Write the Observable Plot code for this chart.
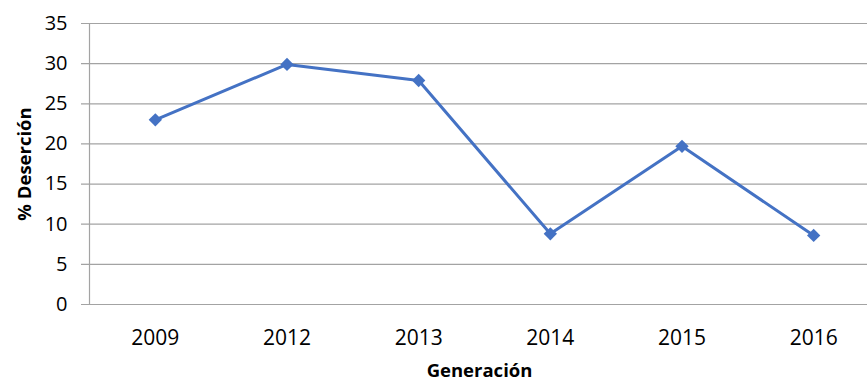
<!DOCTYPE html>
<html>
<head>
<meta charset="utf-8">
<script src="https://cdn.jsdelivr.net/npm/d3@7"></script>
<script src="https://cdn.jsdelivr.net/npm/@observablehq/plot@0.6"></script>
<style>
  html, body { margin: 0; padding: 0; background: #ffffff; }
  #chart svg { display: block; }
</style>
</head>
<body>
<div id="chart"></div>
<script>
// Dropout rate (%) by student generation
const generations = ["2009", "2012", "2013", "2014", "2015", "2016"];
const dropoutRates = [23.0, 29.9, 27.9, 8.8, 19.7, 8.6];
const yTicks = [0, 5, 10, 15, 20, 25, 30, 35];

const data = generations.map((g, i) => ({i, generation: g, rate: dropoutRates[i]}));
const xIndex = d3.range(generations.length);

const blue = "#4472C4";
const grid = "#a3a3a3";

const chart = Plot.plot({
  width: 867,
  height: 381,
  marginLeft: 81,
  marginRight: 0,
  marginTop: 23,
  marginBottom: 77,
  style: {fontFamily: "'Open Sans', sans-serif", fontSize: "20px", color: "#000", background: "#fff"},
  x: {type: "linear", domain: [-0.5, generations.length - 0.5], range: [89, 879]},
  y: {domain: [0, 35], range: [304, 23]},
  marks: [
    Plot.ruleY(yTicks, {stroke: grid, strokeWidth: 1.2}),
    Plot.ruleX([-0.5], {y1: 0, y2: 35, stroke: grid, strokeWidth: 1.2}),
    Plot.axisY({ticks: yTicks, tickSize: 0, tickPadding: 14, fontSize: 20,
      label: "% Deserción", labelAnchor: "center", labelArrow: "none", labelOffset: 64}),
    Plot.axisX({ticks: xIndex, tickFormat: i => generations[i], tickSize: 0, tickPadding: 26, fontSize: 21,
      label: "Generación", labelAnchor: "center", labelArrow: "none", labelOffset: 72}),
    Plot.line(data, {x: "i", y: "rate", stroke: blue, strokeWidth: 3}),
    Plot.dot(data, {x: "i", y: "rate", symbol: "diamond2", r: 6, fill: blue, stroke: "none"})
  ]
});

// Bold axis titles only (not the tick labels)
d3.select(chart).selectAll("g[aria-label='y-axis label'] text, g[aria-label='x-axis label'] text")
  .style("font-weight", "bold").style("font-size", "18.5px");
d3.select(chart).selectAll("g[aria-label='x-axis label'] text").attr("dx", 5);

document.getElementById("chart").appendChild(chart);
</script>
</body>
</html>
